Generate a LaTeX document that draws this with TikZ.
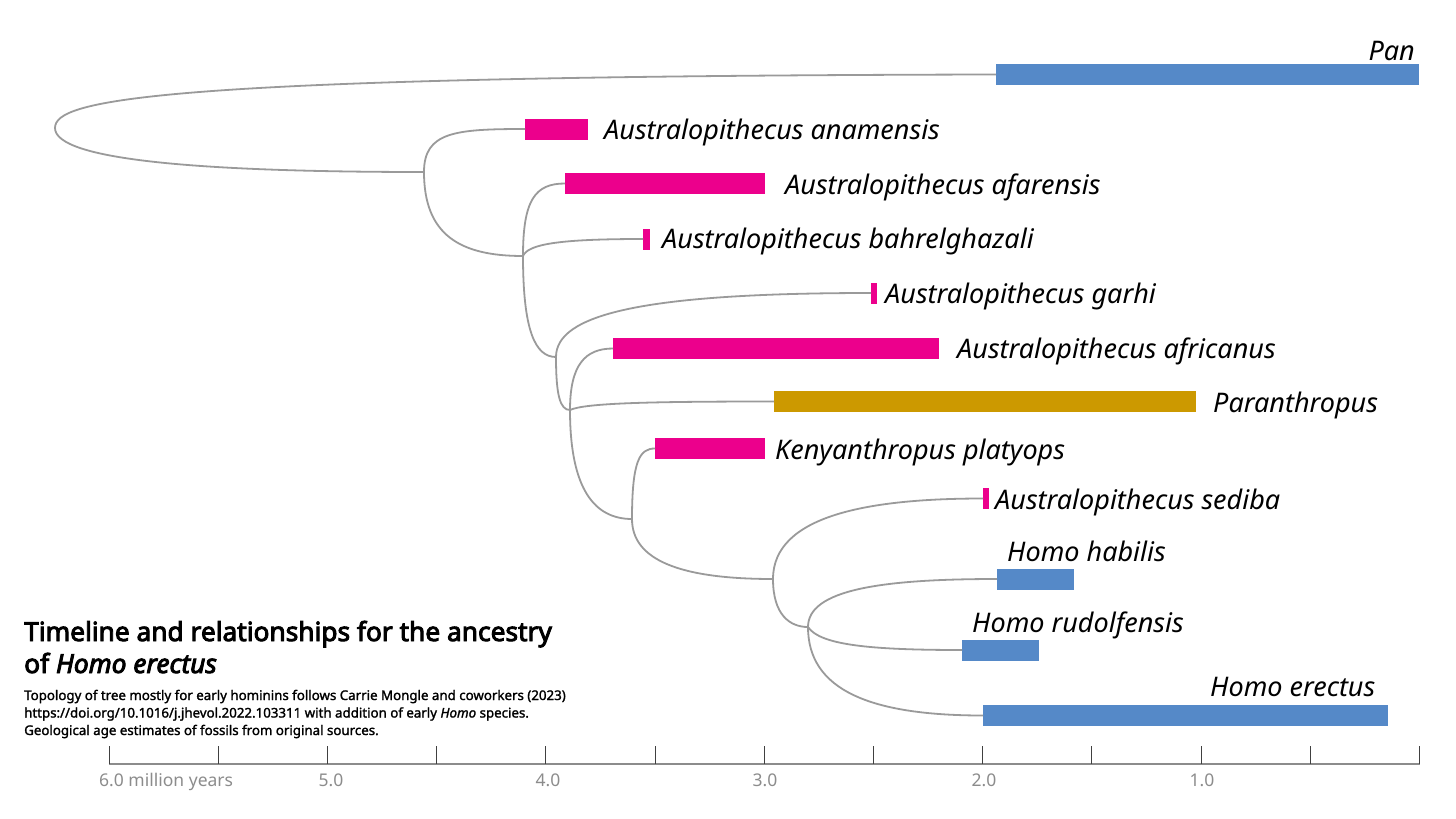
\documentclass[tikz,border=0pt]{standalone}
\usepackage{fontspec}
\setmainfont{Noto Sans}
\newfontfamily\titlefont{Noto Sans}[FakeBold=3.5]
\newfontfamily\footfont{Noto Sans}[FakeBold=1.6]
\definecolor{mag}{HTML}{EC008C}
\definecolor{hblue}{HTML}{5589C8}
\definecolor{gold}{HTML}{CC9900}
\definecolor{branch}{HTML}{9A9A9A}
\definecolor{axisgray}{HTML}{8C8C8C}
\begin{document}
\begin{tikzpicture}[x=1pt,y=-1pt,
  bar/.style={fill=#1, draw=none, inner sep=0pt, anchor=west, minimum height=21pt},
  lbl/.style={anchor=base west, inner sep=0pt, font=\fontsize{27}{31}\selectfont\itshape},
  lble/.style={anchor=base east, inner sep=0pt, font=\fontsize{27}{31}\selectfont\itshape},
  br/.style={draw=branch, line width=1.8pt},
  ttl/.style={anchor=base west, inner sep=0pt, font=\titlefont\fontsize{26.3}{30}\selectfont},
  foot/.style={anchor=base west, inner sep=0pt, font=\footfont\fontsize{13.3}{17}\selectfont},
  axlbl/.style={anchor=base, inner sep=0pt, text=axisgray, font=\fontsize{17.5}{20}\selectfont},
  tick/.style={draw=black!75, line width=0.8pt}]
\useasboundingbox (0,0) rectangle (1456,819);
\fill[white] (0,0) rectangle (1456,819);

% bars
\node[bar=hblue, minimum width=423pt] (pan)  at (996,74.5) {};
\node[bar=mag,   minimum width=63pt]  (anam) at (525,129) {};
\node[bar=mag,   minimum width=200pt] (afar) at (565,183.5) {};
\node[bar=mag,   minimum width=7pt]   (bahr) at (643,239) {};
\node[bar=mag,   minimum width=6pt]   (garh) at (871,293) {};
\node[bar=mag,   minimum width=326pt] (afri) at (613,348.5) {};
\node[bar=gold,  minimum width=422pt] (para) at (774,401.5) {};
\node[bar=mag,   minimum width=110pt] (keny) at (655,448.5) {};
\node[bar=mag,   minimum width=6pt]   (sedi) at (983,498.5) {};
\node[bar=hblue, minimum width=77pt]  (habi) at (997,579) {};
\node[bar=hblue, minimum width=77pt]  (rudo) at (962,650) {};
\node[bar=hblue, minimum width=405pt] (erec) at (983,715.5) {};

% labels
\node[lble] (lpan)  at (1415,60)  {Pan};
\node[lbl]  (lanam) at (604,139)  {Australopithecus anamensis};
\node[lbl]  (lafar) at (785,194)  {Australopithecus afarensis};
\node[lbl]  (lbahr) at (662,248)  {Australopithecus bahrelghazali};
\node[lbl]  (lgarh) at (885,303)  {Australopithecus garhi};
\node[lbl]  (lafri) at (957,358)  {Australopithecus africanus};
\node[lbl]  (lpara) at (1213,412) {Paranthropus};
\node[lbl]  (lkeny) at (775,459)  {Kenyanthropus platyops};
\node[lbl]  (lsedi) at (995,509)  {Australopithecus sediba};
\node[lbl]  (lhabi) at (1007,561) {Homo habilis};
\node[lbl]  (lrudo) at (972,632)  {Homo rudolfensis};
\node[lbl]  (lerec) at (1210,696) {Homo erectus};

% internal nodes
\coordinate (root) at (55,128);
\coordinate (nA) at (424,172);
\coordinate (nB) at (523,256);
\coordinate (nC) at (556,357);
\coordinate (nD) at (570,410);
\coordinate (nE) at (632,519);
\coordinate (nF) at (773,579);
\coordinate (nG) at (808,627);

% branches
\draw[br] (pan.west) .. controls (150,76) and (55,100) .. (root)
                    .. controls (55,160) and (200,172) .. (nA);
\draw[br] (nA) .. controls (424,132) and (455,129) .. (anam.west);
\draw[br] (nA) .. controls (424,235) and (460,256) .. (nB);
\draw[br] (nB) .. controls (523,200) and (535,183.5) .. (afar.west);
\draw[br] (nB) .. controls (528,244) and (560,239) .. (bahr.west);
\draw[br] (nB) .. controls (523,330) and (535,357) .. (nC);
\draw[br] (nC) .. controls (556,315) and (640,293) .. (garh.west);
\draw[br] (nC) .. controls (556,395) and (560,410) .. (nD);
\draw[br] (nD) .. controls (570,365) and (585,348.5) .. (afri.west);
\draw[br] (nD) .. controls (585,403) and (650,401.5) .. (para.west);
\draw[br] (nD) .. controls (570,490) and (595,519) .. (nE);
\draw[br] (nE) .. controls (632,460) and (640,448.5) .. (keny.west);
\draw[br] (nE) .. controls (632,560) and (680,579) .. (nF);
\draw[br] (nF) .. controls (773,515) and (870,498.5) .. (sedi.west);
\draw[br] (nF) .. controls (773,615) and (790,627) .. (nG);
\draw[br] (nG) .. controls (808,590) and (880,579) .. (habi.west);
\draw[br] (nG) .. controls (820,645) and (870,650) .. (rudo.west);
\draw[br] (nG) .. controls (808,690) and (870,715.5) .. (erec.west);

% title and footnote
\node[ttl] (t1) at (24,641) {Timeline and relationships for the ancestry};
\node[ttl] (t2) at (24,673) {of \textit{Homo erectus}};
\node[foot] (f1) at (24,700) {Topology of tree mostly for early hominins follows Carrie Mongle and coworkers (2023)};
\node[foot] (f2) at (24,717.5) {https://doi.org/10.1016/j.jhevol.2022.103311 with addition of early \textit{Homo} species.};
\node[foot] (f3) at (24,735) {Geological age estimates of fossils from original sources.};

% axis
\draw[draw=axisgray, line width=1.3pt] (109,764) -- (1420,764);
\foreach \i in {0,...,12} {
  \draw[tick] ({109+109.2*\i},746) -- ({109+109.2*\i},764);
}
\node[axlbl, anchor=base west] (a6) at (99,786) {6.0 million years};
\node[axlbl] (a5) at (331,786) {5.0};
\node[axlbl] (a4) at (548,786) {4.0};
\node[axlbl] (a3) at (765,786) {3.0};
\node[axlbl] (a2) at (984,786) {2.0};
\node[axlbl] (a1) at (1202,786) {1.0};
\end{tikzpicture}
\end{document}
